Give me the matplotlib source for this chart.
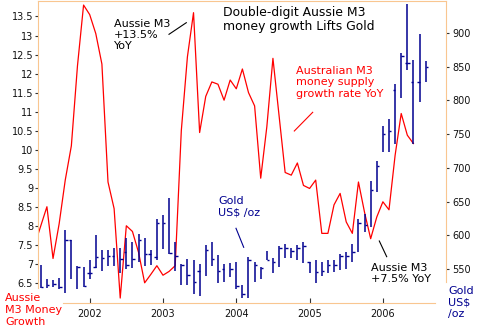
import numpy as np
import matplotlib
matplotlib.use("Agg")
import matplotlib.pyplot as plt
from matplotlib.lines import Line2D
from matplotlib.ticker import FuncFormatter

# Australian M3 money supply growth, % YoY, monthly from Apr 2001
m3_start = 2001 + 3 / 12
m3_growth = [7.5, 8.0, 8.5, 7.14, 8.05, 9.2, 10.1, 12.2, 13.8, 13.55,
             13.05, 12.25, 9.15, 8.45, 6.1, 8.0, 7.85, 7.3, 6.5, 6.72,
             6.95, 6.7, 6.8, 6.95, 10.5, 12.44, 13.6, 10.45, 11.4, 11.78,
             11.72, 11.3, 11.83, 11.6, 12.12, 11.5, 11.15, 9.25, 10.6, 12.4,
             10.9, 9.4, 9.33, 9.65, 9.06, 8.98, 9.2, 7.8, 7.8, 8.55,
             8.85, 8.1, 7.8, 9.15, 8.35, 7.66, 8.23, 8.63, 8.42, 9.85,
             10.95, 10.38, 10.16]

# Gold monthly bars (US$/oz), from May 2001
gold_start = 2001 + 4 / 12
gold_high = [556, 535, 534, 537, 608, 593, 555, 553, 563, 600,
             578, 579, 581, 581, 596, 591, 602, 597, 578, 625,
             630, 655, 590, 558, 565, 563, 558, 586, 590, 571,
             558, 559, 561, 526, 568, 561, 553, 577, 566, 584,
             587, 581, 586, 590, 561, 563, 561, 563, 563, 573,
             576, 588, 624, 632, 680, 711, 762, 773, 825, 870,
             943, 860, 899, 858]
gold_low = [522, 522, 524, 521, 515, 536, 520, 524, 535, 552,
            547, 555, 555, 545, 550, 552, 560, 555, 557, 563,
            580, 573, 548, 526, 526, 514, 510, 540, 555, 530,
            531, 538, 520, 508, 507, 531, 535, 563, 544, 553,
            566, 566, 563, 559, 544, 529, 540, 544, 546, 549,
            551, 561, 575, 605, 613, 664, 724, 724, 736, 803,
            845, 736, 798, 828]
gold_close = [524, 527, 528, 524, 594, None, 554, 525, 545, 568,
              566, 570, None, 565, 557, 565, 594, 572, None, 618,
              618, 574, 570, 556, 541, 531, None, 579, 565, 548,
              None, 550, 525, 513, 564, 557, 552, 564, 561, 581,
              581, 577, 581, 584, None, 546, 548, 557, 557, 570,
              570, 575, 618, 615, 668, 703, 750, 755, None, 866,
              856, None, None, 850]
gold_open = [None, None, None, None, None, 593, None, None, 545, 553,
             None, None, 570, None, 575, None, None, None, 572, 568,
             None, None, None, None, None, None, 548, None, None, None,
             550, None, None, None, None, None, None, None, None, None,
             None, None, None, None, 561, None, None, None, None, None,
             None, None, None, None, None, None, None, None, 816, None,
             856, 827, 827, None]

year_ticks = [2002, 2003, 2004, 2005, 2006]
m3_ticks = np.arange(6.5, 13.51, 0.5)
gold_ticks = np.arange(550, 901, 50)

RED = "#ff0000"
NAVY = "#000090"
ORANGE = "#f9c690"
W, H = 481, 327

m3_x = m3_start + np.arange(len(m3_growth)) / 12
gold_x = gold_start + np.arange(len(gold_high)) / 12
gold_close = np.array(gold_close, dtype=float)
gold_open = np.array(gold_open, dtype=float)

fig = plt.figure(figsize=(W / 100, H / 100), dpi=100)
ax = fig.add_axes([38 / W, 24 / H, 408 / W, 302.5 / H])
ax2 = ax.twinx()

ax.plot(m3_x, m3_growth, color=RED, lw=0.9)

tw = 0.034
ax2.vlines(gold_x, gold_low, gold_high, color=NAVY, lw=1.1)
ax2.hlines(gold_close, gold_x, gold_x + tw, color=NAVY, lw=1.0)
ax2.hlines(gold_open, gold_x - tw, gold_x, color=NAVY, lw=1.0)

ax.set_xlim(2001.295, 2006.861)
ax.set_ylim(5.97, 13.92)
ax2.set_ylim(500, 948)

ax.set_xticks(year_ticks)
ax.set_xticklabels([str(y) for y in year_ticks])
ax.set_yticks(m3_ticks)
ax.yaxis.set_major_formatter(FuncFormatter(lambda v, p: "%g" % v))
ax2.set_yticks(gold_ticks)

ax.tick_params(axis="x", direction="in", length=3.5, pad=4, labelsize=7,
               color="#333333", labelcolor="#111111")
ax.tick_params(axis="y", direction="out", length=2.5, pad=1, labelsize=7,
               color="#333333", labelcolor="#111111")
ax2.tick_params(axis="y", direction="out", length=2.5, pad=2, labelsize=7,
                color="#333333", labelcolor="#111111")

for s in ["left", "bottom", "top"]:
    ax.spines[s].set_color(ORANGE)
ax.spines["right"].set_visible(False)
for s in ["left", "bottom", "top"]:
    ax2.spines[s].set_visible(False)
ax2.spines["right"].set_color(ORANGE)
ax.spines["left"].set_bounds(6.36, 13.92)
ax.spines["bottom"].set_bounds(2001.636, 2006.71)
ax2.spines["right"].set_bounds(530.7, 948)


def fx(px):
    return px / W


def fy(py):
    return 1 - py / H


fig.text(fx(223), fy(19.5), "Double-digit Aussie M3\nmoney growth Lifts Gold",
         fontsize=8.9, va="center", ha="left", linespacing=1.07)
fig.text(fx(114), fy(35), "Aussie M3\n+13.5%\nYoY", fontsize=8,
         va="center", ha="left", linespacing=1.15)
fig.text(fx(296), fy(82.5), "Australian M3\nmoney supply\ngrowth rate YoY",
         fontsize=8, color=RED, va="center", ha="left", linespacing=1.2)
fig.text(fx(218), fy(207), "Gold\nUS$ /oz", fontsize=8, color=NAVY,
         va="center", ha="left", linespacing=1.2)
fig.text(fx(371), fy(273.5), "Aussie M3\n+7.5% YoY", fontsize=8,
         va="center", ha="left", linespacing=1.1)
fig.text(fx(5), fy(310), "Aussie\nM3 Money\nGrowth", fontsize=8, color=RED,
         va="center", ha="left", linespacing=1.2)
fig.text(fx(448), fy(302.7), "Gold\nUS$\n/oz", fontsize=8, color=NAVY,
         va="center", ha="left", linespacing=1.15)

# pointer strokes
pointers = [((169, 34.3), (186.3, 22.7), "black"),
            ((294.3, 131), (312.7, 112.3), RED),
            ((236, 228.3), (243.7, 247.3), NAVY),
            ((379.3, 241), (386.7, 256.7), "black")]
for (x1, y1), (x2, y2), c in pointers:
    fig.add_artist(Line2D([fx(x1), fx(x2)], [fy(y1), fy(y2)],
                          transform=fig.transFigure, color=c, lw=0.8))

fig.savefig("out.png", dpi=100)
